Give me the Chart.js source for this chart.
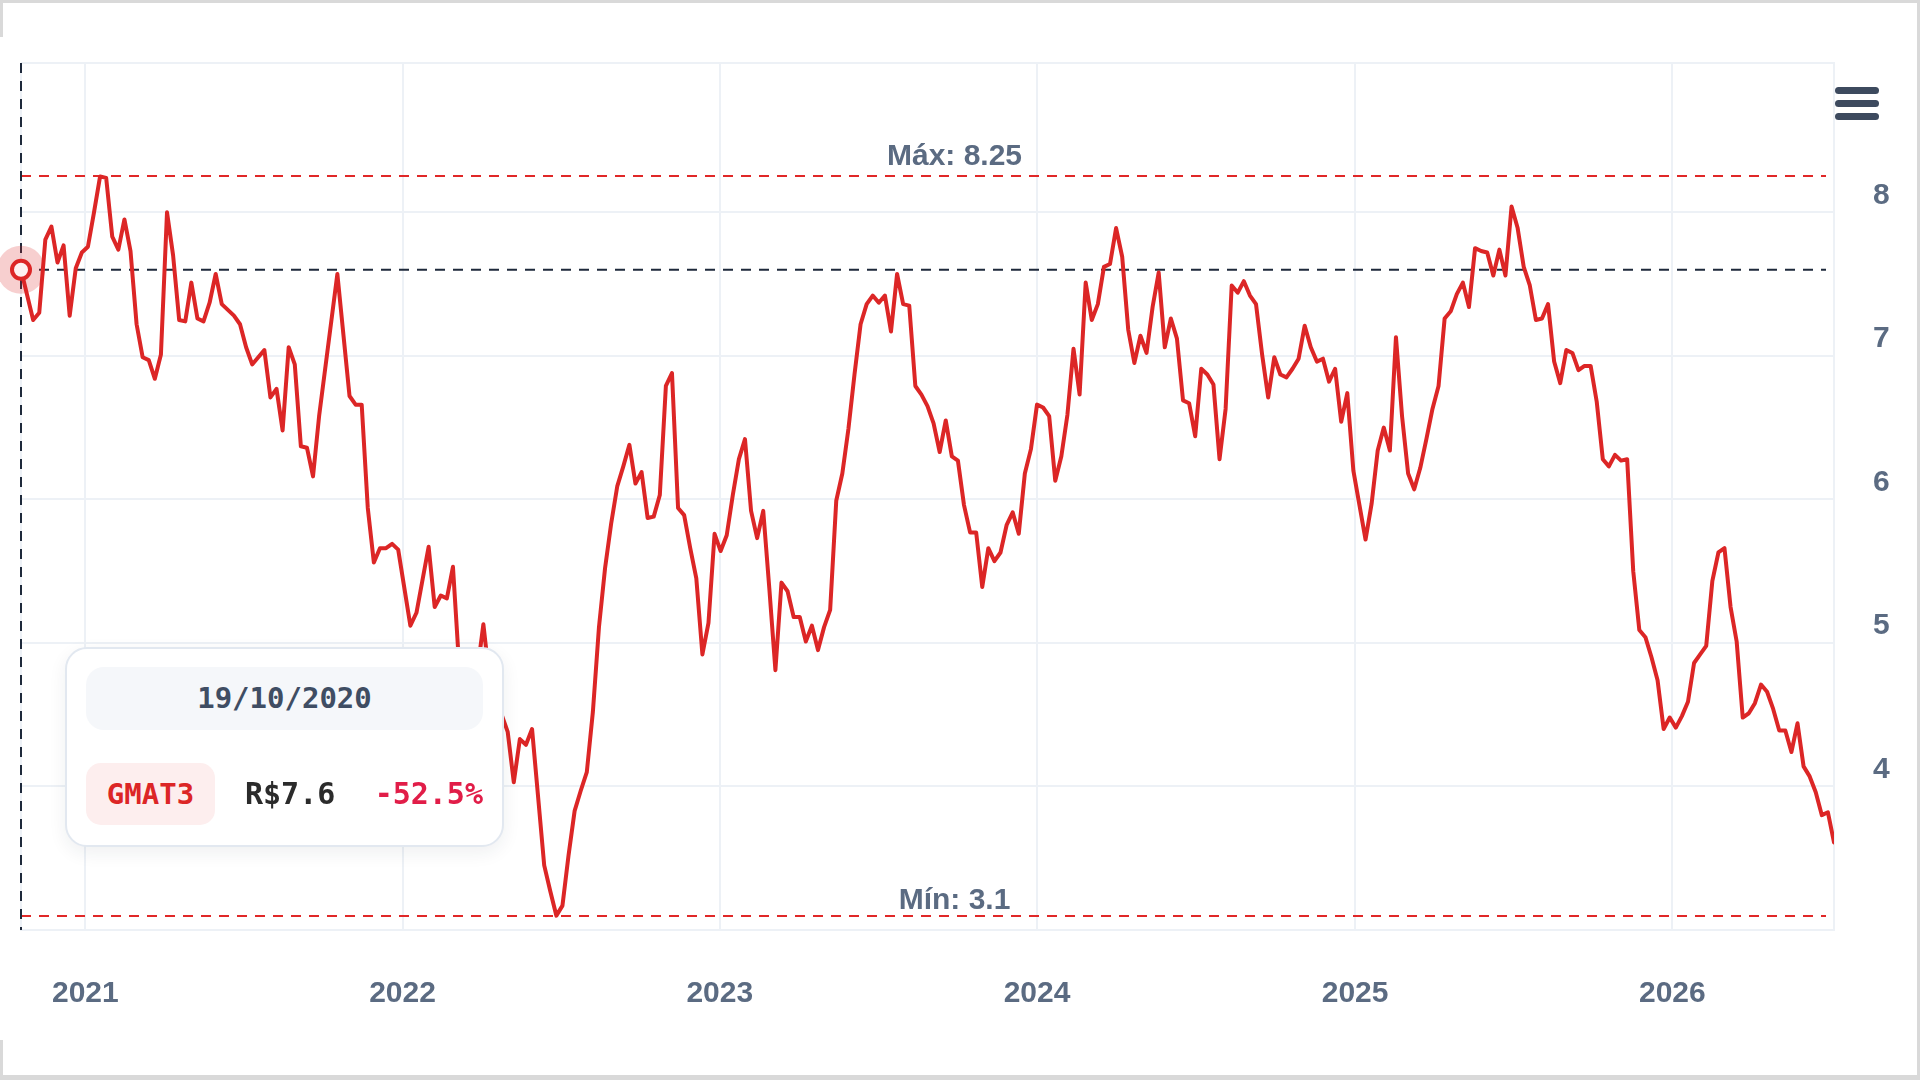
<!DOCTYPE html>
<html>
<head>
<meta charset="utf-8">
<script src="https://cdn.jsdelivr.net/npm/chart.js@4.4.1/dist/chart.umd.min.js"></script>
<style>
  html, body { margin:0; padding:0; width:1920px; height:1080px; overflow:hidden; background:#d9d9d9; }
  #frame { position:absolute; left:3px; top:3px; width:1914px; height:1072px; background:#ffffff; }
  #strip { position:absolute; left:0; top:37px; width:3px; height:1003px; background:#ffffff; }
  #wrap { position:absolute; left:0; top:0; width:1920px; height:1080px; }
  .bar { position:absolute; left:1835px; width:44px; height:7px; border-radius:4px; background:#3d4a5e; }
  #tip { position:absolute; left:65px; top:647px; width:439px; height:200px; box-sizing:border-box;
         border:2px solid #e2e8f0; border-radius:22px; background:#ffffff;
         box-shadow:0 6px 18px rgba(30,41,59,0.07);
         font-family:'DejaVu Sans Mono', monospace; font-weight:bold; }
  #tipDate { position:absolute; left:19px; top:18px; width:397px; height:63px; line-height:63px; text-align:center;
             background:#f5f7fa; border-radius:18px; color:#3f4d63; font-size:29px; }
  #tipTicker { position:absolute; left:19px; top:114px; width:129px; height:62px; line-height:62px; text-align:center;
               background:#fdeeee; border-radius:15px; color:#dc2626; font-size:29px; }
  #tipPrice { position:absolute; left:178px; top:114px; height:62px; line-height:62px; color:#2b2b2b; font-size:30px; }
  #tipChange { position:absolute; right:19px; top:114px; height:62px; line-height:62px; color:#e11d48; font-size:30px; }
</style>
</head>
<body>
<div id="frame"></div>
<div id="strip"></div>
<div id="wrap"><canvas id="c" width="1920" height="1080"></canvas></div>
<div class="bar" style="top:87px"></div>
<div class="bar" style="top:100px"></div>
<div class="bar" style="top:113px"></div>
<div id="tip">
  <div id="tipDate"></div>
  <div id="tipTicker"></div>
  <div id="tipPrice"></div>
  <div id="tipChange"></div>
</div>
<script>
// ---- data (weekly closes) ----
const ticker = 'GMAT3';
const startDate = '2020-10-19';
const weekOffsets = [0,2,3,4,5,6,7,8,9,10,11,12,13,14,15,16,17,18,19,20,21,22,23,24,25,26,27,28,29,30,31,32,33,34,35,36,37,38,39,40,41,42,43,44,45,46,47,48,49,52,54,55,56,57,58,59,60,61,62,64,65,67,68,69,70,71,72,73,74,75,76,77,78,79,80,81,82,83,84,86,87,88,89,90,91,92,93,94,95,96,97,98,99,100,101,102,103,104,105,106,107,108,109,110,111,112,113,114,115,116,117,118,119,120,121,122,123,124,125,126,127,128,129,130,131,132,133,134,135,136,137,138,139,140,141,142,143,144,145,146,147,148,149,150,151,152,153,154,155,156,157,158,159,160,161,162,163,164,165,166,167,168,169,170,171,172,173,174,175,176,177,178,179,180,181,182,183,184,185,186,187,188,189,190,191,192,193,194,195,196,197,198,199,200,201,202,203,204,205,206,207,208,209,210,211,212,213,214,215,216,217,218,219,220,221,222,223,224,225,226,227,228,229,230,231,232,233,234,235,236,237,238,239,240,241,242,243,244,245,246,247,248,249,250,251,252,253,254,255,256,257,258,259,260,261,262,263,264,265,266,267,268,269,270,271,272,273,274,275,276,277,278,279,280,281,282,283,284,285,286,287,288,289,290,291,292,293,294,295,296,297,298];
const closePrices = [7.60,7.25,7.30,7.81,7.90,7.65,7.77,7.28,7.61,7.72,7.76,8.00,8.25,8.24,7.83,7.74,7.95,7.73,7.22,6.99,6.97,6.84,7.01,8.00,7.70,7.25,7.24,7.51,7.26,7.24,7.37,7.57,7.36,7.32,7.28,7.22,7.06,6.94,6.99,7.04,6.71,6.77,6.48,7.06,6.94,6.37,6.36,6.16,6.58,7.57,6.72,6.66,6.66,5.94,5.56,5.66,5.66,5.69,5.65,5.12,5.21,5.67,5.25,5.33,5.31,5.53,4.85,4.55,4.65,4.80,5.13,4.75,4.60,4.50,4.38,4.03,4.33,4.29,4.40,3.45,3.27,3.10,3.17,3.52,3.83,3.97,4.10,4.52,5.11,5.52,5.83,6.09,6.23,6.38,6.11,6.19,5.87,5.88,6.03,6.79,6.88,5.94,5.89,5.66,5.45,4.92,5.14,5.76,5.64,5.75,6.03,6.28,6.42,5.92,5.73,5.92,5.38,4.81,5.42,5.36,5.18,5.18,5.01,5.12,4.95,5.11,5.23,5.99,6.18,6.49,6.87,7.22,7.36,7.42,7.37,7.42,7.17,7.57,7.36,7.35,6.79,6.73,6.65,6.53,6.33,6.55,6.30,6.27,5.96,5.77,5.77,5.39,5.66,5.57,5.63,5.82,5.91,5.76,6.18,6.35,6.66,6.64,6.58,6.13,6.30,6.59,7.05,6.73,7.51,7.25,7.36,7.62,7.64,7.89,7.69,7.18,6.95,7.14,7.02,7.34,7.58,7.06,7.26,7.12,6.69,6.67,6.44,6.91,6.87,6.80,6.28,6.63,7.49,7.44,7.52,7.42,7.36,7.01,6.71,6.99,6.87,6.85,6.91,6.98,7.21,7.06,6.96,6.98,6.82,6.91,6.54,6.74,6.20,5.96,5.72,5.97,6.34,6.50,6.34,7.13,6.58,6.18,6.07,6.22,6.42,6.63,6.79,7.26,7.31,7.43,7.51,7.34,7.75,7.73,7.72,7.56,7.74,7.56,8.04,7.89,7.62,7.49,7.25,7.26,7.36,6.96,6.81,7.04,7.02,6.90,6.93,6.93,6.68,6.28,6.23,6.31,6.27,6.28,5.50,5.09,5.04,4.90,4.74,4.40,4.48,4.41,4.49,4.59,4.86,4.92,4.98,5.43,5.63,5.66,5.25,5.01,4.48,4.51,4.58,4.71,4.66,4.54,4.39,4.39,4.24,4.44,4.14,4.07,3.96,3.80,3.82,3.61];
const yearLabels = ['2021','2022','2023','2024','2025','2026'];
const yTickValues = [4, 5, 6, 7, 8];
const yAxisRange = [3.0, 9.04];

// ---- derived ----
const DAY = 86400000;
const t0 = Date.parse(startDate + 'T00:00:00Z');
const points = weekOffsets.map((w, i) => ({ x: t0 + w * 7 * DAY, y: closePrices[i] }));
const xMin = points[0].x, xMax = points[points.length - 1].x;
const yearTimes = yearLabels.map(y => Date.UTC(+y, 0, 1));
const maxPrice = Math.max(...closePrices);
const minPrice = Math.min(...closePrices);
const firstPrice = closePrices[0];
const lastPrice = closePrices[closePrices.length - 1];

// tooltip text
const d0 = new Date(t0);
const pad = n => String(n).padStart(2, '0');
document.getElementById('tipDate').textContent = pad(d0.getUTCDate()) + '/' + pad(d0.getUTCMonth() + 1) + '/' + d0.getUTCFullYear();
document.getElementById('tipTicker').textContent = ticker;
document.getElementById('tipPrice').textContent = 'R$' + firstPrice;
document.getElementById('tipChange').textContent = ((lastPrice / firstPrice - 1) * 100).toFixed(1) + '%';

const labelColor = '#5b6b82';
const gridColor = '#edf1f6';
const axisFont = { family: "'Liberation Sans', Arial, sans-serif", size: 30, weight: 'bold' };
const fmt = v => String(parseFloat(v.toFixed(2)));

const overlay = {
  id: 'overlay',
  beforeDatasetsDraw(chart) {
    const { ctx, chartArea: a, scales: { x, y } } = chart;
    ctx.save();
    ctx.lineWidth = 2;
    // max / min lines
    ctx.strokeStyle = '#e02828';
    ctx.setLineDash([10, 8]);
    [maxPrice, minPrice].forEach(v => {
      const py = Math.round(y.getPixelForValue(v));
      ctx.beginPath(); ctx.moveTo(a.left, py); ctx.lineTo(a.right - 8, py); ctx.stroke();
    });
    // crosshair at hovered (first) point
    const px = x.getPixelForValue(xMin), py0 = y.getPixelForValue(firstPrice);
    ctx.strokeStyle = '#1e293b';
    ctx.beginPath(); ctx.moveTo(px, a.top); ctx.lineTo(px, a.bottom); ctx.stroke();
    ctx.beginPath(); ctx.moveTo(a.left, py0); ctx.lineTo(a.right - 8, py0); ctx.stroke();
    ctx.setLineDash([]);
    // labels
    ctx.fillStyle = labelColor;
    ctx.font = "bold 30px 'Liberation Sans', Arial, sans-serif";
    ctx.textAlign = 'center';
    ctx.textBaseline = 'alphabetic';
    const cx = (a.left + a.right) / 2 + 27;
    ctx.fillText('Máx: ' + fmt(maxPrice), cx, y.getPixelForValue(maxPrice) - 11);
    ctx.fillText('Mín: ' + fmt(minPrice), cx, y.getPixelForValue(minPrice) - 7);
    ctx.restore();
  },
  afterDatasetsDraw(chart) {
    const { ctx } = chart;
    const el = chart.getDatasetMeta(0).data[0];
    ctx.save();
    ctx.fillStyle = 'rgba(220,38,38,0.22)';
    ctx.beginPath(); ctx.arc(el.x, el.y, 24, 0, Math.PI * 2); ctx.fill();
    ctx.fillStyle = '#fdf1f1';
    ctx.strokeStyle = '#dc2626';
    ctx.lineWidth = 4;
    ctx.beginPath(); ctx.arc(el.x, el.y, 9, 0, Math.PI * 2); ctx.fill(); ctx.stroke();
    ctx.restore();
  }
};

new Chart(document.getElementById('c'), {
  type: 'line',
  data: {
    datasets: [{
      label: ticker,
      data: points,
      borderColor: '#dc2626',
      borderWidth: 4,
      pointRadius: 0,
      tension: 0,
      fill: false,
      borderJoinStyle: 'round',
      borderCapStyle: 'round'
    }]
  },
  options: {
    responsive: false,
    animation: false,
    events: [],
    layout: { padding: { left: 21, top: 63, right: 0, bottom: 0 } },
    plugins: { legend: { display: false }, tooltip: { enabled: false } },
    scales: {
      x: {
        type: 'linear',
        min: xMin,
        max: xMax,
        afterBuildTicks: s => { s.ticks = [xMin, ...yearTimes, xMax].map(v => ({ value: v })); },
        afterFit: s => { s.height = 150; },
        ticks: {
          autoSkip: false, maxRotation: 0, padding: 0,
          color: labelColor, font: axisFont,
          callback: v => { const i = yearTimes.indexOf(v); return i >= 0 ? yearLabels[i] : ''; }
        },
        grid: { color: gridColor, lineWidth: 2, drawTicks: true, tickLength: 46, tickColor: 'rgba(0,0,0,0)' },
        border: { display: true, color: gridColor, width: 2 }
      },
      y: {
        type: 'linear',
        position: 'right',
        min: yAxisRange[0],
        max: yAxisRange[1],
        afterBuildTicks: s => { s.ticks = [yAxisRange[0], ...yTickValues, yAxisRange[1]].map(v => ({ value: v })); },
        afterFit: s => { s.width = 86; },
        ticks: {
          padding: 0, labelOffset: -17,
          color: labelColor, font: axisFont,
          callback: v => yTickValues.includes(v) ? String(v) : ''
        },
        grid: { color: gridColor, lineWidth: 2, drawTicks: true, tickLength: 39, tickColor: 'rgba(0,0,0,0)' },
        border: { display: true, color: gridColor, width: 2 }
      }
    }
  },
  plugins: [overlay]
});
</script>
</body>
</html>
